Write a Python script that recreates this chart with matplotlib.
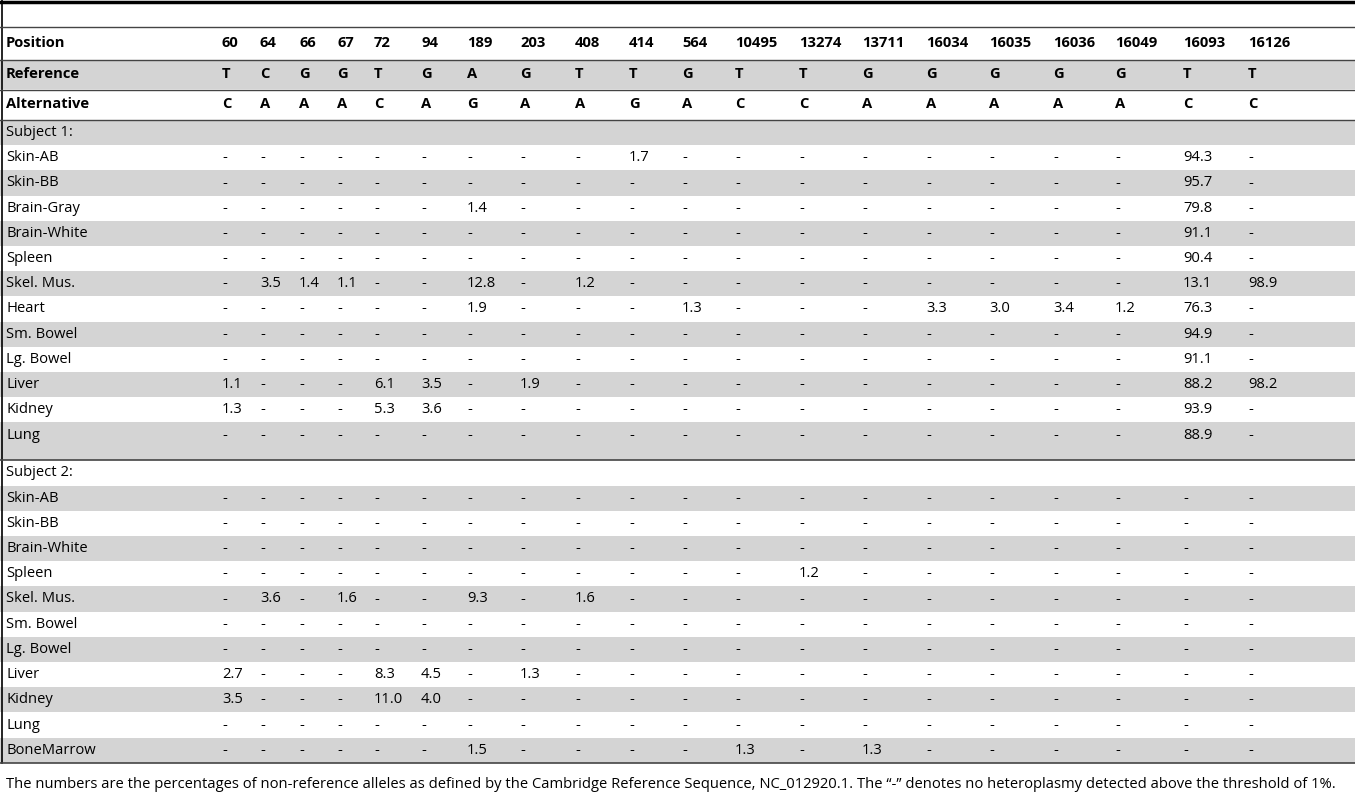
import matplotlib.pyplot as plt

positions = ['60', '64', '66', '67', '72', '94', '189', '203', '408', '414', '564', '10495',
             '13274', '13711', '16034', '16035', '16036', '16049', '16093', '16126']
reference = ['T', 'C', 'G', 'G', 'T', 'G', 'A', 'G', 'T', 'T', 'G', 'T', 'T', 'G', 'G', 'G', 'G', 'G', 'T', 'T']
alternative = ['C', 'A', 'A', 'A', 'C', 'A', 'G', 'A', 'A', 'G', 'A', 'C', 'C', 'A', 'A', 'A', 'A', 'A', 'C', 'C']

# sparse values: tissue -> {position: percent}
subject1 = [
    ('Skin-AB', {'414': '1.7', '16093': '94.3'}),
    ('Skin-BB', {'16093': '95.7'}),
    ('Brain-Gray', {'189': '1.4', '16093': '79.8'}),
    ('Brain-White', {'16093': '91.1'}),
    ('Spleen', {'16093': '90.4'}),
    ('Skel. Mus.', {'64': '3.5', '66': '1.4', '67': '1.1', '189': '12.8', '408': '1.2',
                    '16093': '13.1', '16126': '98.9'}),
    ('Heart', {'189': '1.9', '564': '1.3', '16034': '3.3', '16035': '3.0', '16036': '3.4',
               '16049': '1.2', '16093': '76.3'}),
    ('Sm. Bowel', {'16093': '94.9'}),
    ('Lg. Bowel', {'16093': '91.1'}),
    ('Liver', {'60': '1.1', '72': '6.1', '94': '3.5', '203': '1.9', '16093': '88.2', '16126': '98.2'}),
    ('Kidney', {'60': '1.3', '72': '5.3', '94': '3.6', '16093': '93.9'}),
    ('Lung', {'16093': '88.9'}),
]
subject2 = [
    ('Skin-AB', {}),
    ('Skin-BB', {}),
    ('Brain-White', {}),
    ('Spleen', {'13274': '1.2'}),
    ('Skel. Mus.', {'64': '3.6', '67': '1.6', '189': '9.3', '408': '1.6'}),
    ('Sm. Bowel', {}),
    ('Lg. Bowel', {}),
    ('Liver', {'60': '2.7', '72': '8.3', '94': '4.5', '203': '1.3'}),
    ('Kidney', {'60': '3.5', '72': '11.0', '94': '4.0'}),
    ('Lung', {}),
    ('BoneMarrow', {'189': '1.5', '10495': '1.3', '13711': '1.3'}),
]
footnote = ('The numbers are the percentages of non-reference alleles as defined by the Cambridge '
            'Reference Sequence, NC_012920.1. The \u201c-\u201d denotes no heteroplasmy detected above the threshold of 1%.')

col_x = [222, 260, 299, 337, 374, 421, 467, 520, 575, 629, 682, 735, 799, 862, 926, 989, 1053, 1115, 1183, 1248]
W, H = 1355, 800
GRAY = '#d4d4d4'
plt.rcParams['font.family'] = ['Open Sans', 'DejaVu Sans']
FS = 10.6

fig = plt.figure(figsize=(W / 100, H / 100), dpi=100)
ax = fig.add_axes([0, 0, 1, 1])
ax.set_xlim(0, W)
ax.set_ylim(H, 0)
ax.axis('off')


def band(y0, y1):
    ax.axhspan(y0, y1, color=GRAY, lw=0, zorder=0)


def hline(y, lw=1.0, c='#444444'):
    ax.plot([0, W], [y, y], color=c, lw=lw, zorder=2)


def row(y, label, cells, bold=False):
    w = 'bold' if bold else 'normal'
    ax.text(6, y, label, fontsize=FS, weight=w, va='center', ha='left')
    for x, c in zip(col_x, cells):
        ax.text(x, y, c, fontsize=FS, weight=w, va='center', ha='left')


hline(1.5, lw=2.5, c='black')
ax.plot([1.5, 1.5], [0, 763], color='black', lw=1.2)
hline(27, lw=1.0)

# header
row(43, 'Position', positions, bold=True)
hline(59.5)
band(60, 89)
row(74, 'Reference', reference, bold=True)
hline(89.5)
row(104, 'Alternative', alternative, bold=True)
hline(119.5)

rh = 25.2
y = 120
for subj, rows in [('Subject 1:', subject1), ('Subject 2:', subject2)]:
    start_gray = subj == 'Subject 1:'
    items = [(subj, None)] + rows
    for i, (label, vals) in enumerate(items):
        h = rh
        if subj == 'Subject 1:' and i == len(items) - 1:
            h = 38
        gray = (i % 2 == 0) == start_gray
        if gray:
            band(y, y + h)
        cy = y + 13 if h > rh else y + h / 2
        if vals is None:
            ax.text(6, cy, label, fontsize=FS, va='center')
        else:
            row(cy, label, [vals.get(p, '-') for p in positions])
        y += h
    hline(y, lw=1.2)

ax.text(6, 785, footnote, fontsize=FS, va='center', ha='left')

fig.savefig('out.png', dpi=100)
